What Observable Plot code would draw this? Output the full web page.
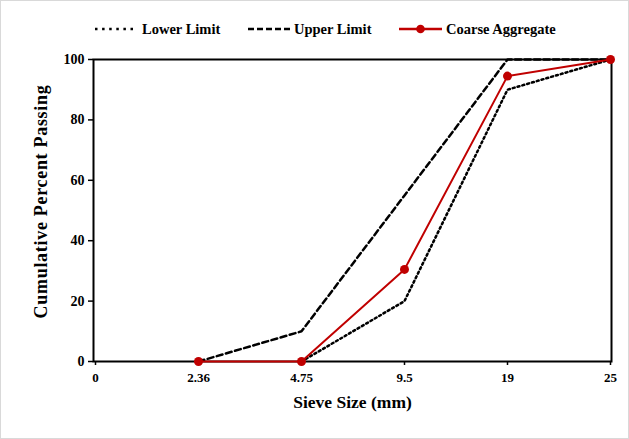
<!DOCTYPE html>
<html><head><meta charset="utf-8">
<script src="https://cdn.jsdelivr.net/npm/d3@7"></script>
<script src="https://cdn.jsdelivr.net/npm/@observablehq/plot@0.6"></script>
<style>
html,body{margin:0;padding:0;background:#fff;}
#wrap{position:relative;width:627px;height:437px;border:1px solid #d9d9d9;overflow:hidden;font-family:"Liberation Serif","Times New Roman",serif;}
#legend{position:relative;height:44px;font-weight:bold;font-size:14.5px;}
.item{position:absolute;top:19px;display:flex;align-items:center;white-space:nowrap;height:18px;}
</style></head>
<body><div id="wrap"><div id="legend"></div><div id="chart"></div></div>
<script>
const sieves = ["0","2.36","4.75","9.5","19","25"];
const lowerSizes = ["4.75","9.5","19","25"];
const lowerValues = [0,20,90,100];
const upperSizes = ["2.36","4.75","9.5","19","25"];
const upperValues = [0,10,55,100,100];
const coarseSizes = ["2.36","4.75","9.5","19","25"];
const coarseValues = [0,0,30.5,94.5,100];
const yTicks = [0,20,40,60,80,100];
const seriesNames = ["Lower Limit","Upper Limit","Coarse Aggregate"];

const lower = lowerSizes.map((s,i)=>({s, v: lowerValues[i]}));
const upper = upperSizes.map((s,i)=>({s, v: upperValues[i]}));
const coarse = coarseSizes.map((s,i)=>({s, v: coarseValues[i]}));
const red = "#c00000";
const dotDash = "2,3";
const longDash = "6,3.5";

// legend
const legend = document.getElementById("legend");
const items = [
  {label:seriesNames[0], dash:"2.5,4.6", color:"#000", dot:false, w:44, left:93, gap:4},
  {label:seriesNames[1], dash:"6,3", color:"#000", dot:false, w:46, left:246, gap:1},
  {label:seriesNames[2], dash:null, color:red, dot:true, w:45, left:397, gap:3}
];
items.forEach((it)=>{
  const d = document.createElement("div"); d.className="item";
  d.style.left = it.left + "px";
  d.innerHTML = `<svg width="${it.w}" height="10" style="margin-right:${it.gap}px"><line x1="1" x2="${it.w-1}" y1="5" y2="5" stroke="${it.color}" stroke-width="2.5" ${it.dash?`stroke-dasharray="${it.dash}"`:""}/>${it.dot?`<circle cx="${it.w/2}" cy="5" r="4.3" fill="${red}"/>`:""}</svg><span>${it.label}</span>`;
  legend.appendChild(d);
});

const chart = Plot.plot({
  width: 627, height: 393,
  marginTop: 14, marginBottom: 77, marginLeft: 92, marginRight: 17,
  style: {fontFamily: '"Liberation Serif","Times New Roman",serif', fontWeight: "bold", fontSize: "13px", color: "#000", background: "#fff"},
  x: {type: "point", domain: sieves, padding: 0},
  y: {domain: [0,100]},
  marks: [
    Plot.frame({stroke: "#000", strokeWidth: 2}),
    Plot.axisX({tickSize: 4, tickPadding: 7, strokeWidth: 1.5, label: null, fontSize: 13}),
    Plot.axisY({ticks: yTicks, tickSize: 5, tickPadding: 4, strokeWidth: 1.5, label: null, fontSize: 14}),
    Plot.text(["Cumulative Percent Passing"], {frameAnchor: "left", textAnchor: "middle", rotate: -90, dx: -52, dy: -9, fontSize: 18, fontWeight: "bold", className: "ylab"}),
    Plot.text(["Sieve Size (mm)"], {frameAnchor: "bottom", dy: 46, fontSize: 17.5, fontWeight: "bold"}),
    Plot.line(lower, {x: "s", y: "v", stroke: "#000", strokeWidth: 2.5, strokeDasharray: dotDash, className: "lower"}),
    Plot.line(upper, {x: "s", y: "v", stroke: "#000", strokeWidth: 2.5, strokeDasharray: longDash, className: "upper"}),
    Plot.line(coarse, {x: "s", y: "v", stroke: red, strokeWidth: 2}),
    Plot.dot(coarse, {x: "s", y: "v", fill: red, r: 4.5})
  ]
});
d3.select(chart).selectAll(".lower, .lower path").attr("stroke-dasharray", dotDash);
d3.select(chart).selectAll(".upper, .upper path").attr("stroke-dasharray", longDash);
d3.select(chart).selectAll(".ylab text").style("letter-spacing", "0.7px");
document.getElementById("chart").appendChild(chart);
</script></body></html>
